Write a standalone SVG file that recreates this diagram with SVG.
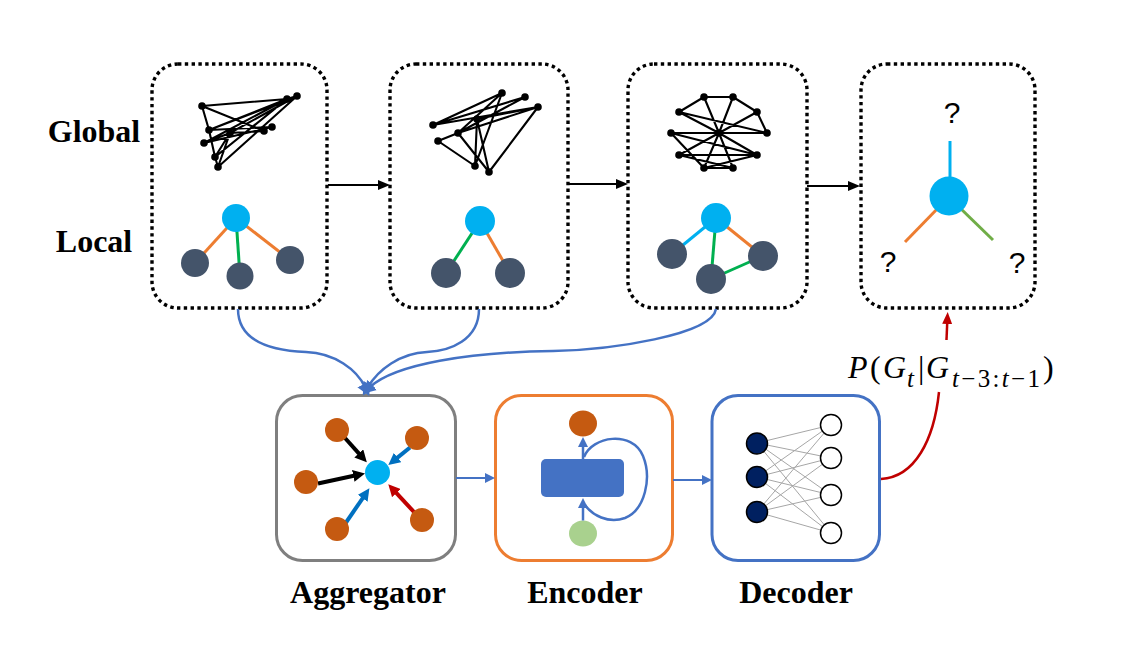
<svg xmlns="http://www.w3.org/2000/svg" width="1141" height="645" viewBox="0 0 1141 645">
<defs>
<style>
.panel{fill:none;stroke:#000;stroke-width:3.4;stroke-dasharray:3.4 3.4;}
.ge{stroke:#000;stroke-width:2.1;fill:none;stroke-linecap:round;}
.gn{fill:#000;}
.lbl{font-family:"Liberation Serif","Times New Roman",serif;font-weight:bold;font-size:32px;fill:#000;text-anchor:middle;}
.q{font-family:"Liberation Sans",Arial,sans-serif;font-size:30px;fill:#000;text-anchor:middle;}
.dark{fill:#44546a;}
.cyan{fill:#00b0f0;}
.orn{fill:#c55a11;}
.le{stroke-width:3;fill:none;}
.conn{fill:none;stroke:#4472c4;stroke-width:2.5;}
.math{font-family:"Liberation Serif","Times New Roman",serif;fill:#000;}
</style>
<marker id="ahK" markerUnits="userSpaceOnUse" markerWidth="12" markerHeight="10" refX="3" refY="5" orient="auto"><path d="M0,0 L12,5 L0,10 z" fill="#000"/></marker>
<marker id="ahB" markerUnits="userSpaceOnUse" markerWidth="14" markerHeight="14" refX="3" refY="7" orient="auto"><path d="M0,0 L13,7 L0,14 z" fill="#4472c4"/></marker>
<marker id="ahBs" markerUnits="userSpaceOnUse" markerWidth="10" markerHeight="10" refX="3" refY="5" orient="auto"><path d="M0,0 L10,5 L0,10 z" fill="#4472c4"/></marker>
<marker id="ahR" markerUnits="userSpaceOnUse" markerWidth="12" markerHeight="10" refX="3" refY="5" orient="auto"><path d="M0,0 L12,5 L0,10 z" fill="#c00000"/></marker>
<marker id="aK2" markerUnits="userSpaceOnUse" markerWidth="12" markerHeight="12" refX="3" refY="6" orient="auto"><path d="M0,0 L12,6 L0,12 z" fill="#000"/></marker>
<marker id="aB2" markerUnits="userSpaceOnUse" markerWidth="12" markerHeight="12" refX="3" refY="6" orient="auto"><path d="M0,0 L12,6 L0,12 z" fill="#0070c0"/></marker>
<marker id="aR2" markerUnits="userSpaceOnUse" markerWidth="12" markerHeight="12" refX="3" refY="6" orient="auto"><path d="M0,0 L12,6 L0,12 z" fill="#c00000"/></marker>
</defs>
<rect width="1141" height="645" fill="#fff"/>

<text class="lbl" x="94" y="142">Global</text>
<text class="lbl" x="94" y="252">Local</text>

<!-- Panel 1 -->
<g id="panel1">
<rect class="panel" x="152" y="64" width="175" height="244" rx="26"/>
<g>
<path class="ge" d="M202,106 L287,99 M202,106 L209,130 M202,106 L264,131 M209,130 L287,99 M209,130 L297,96 M209,130 L272,127 M230,133 L297,96 M230,133 L264,131 M230,133 L218,167 M204,143 L287,99 M204,143 L272,127 M204,143 L230,133 M215,157 L209,130 M215,157 L287,99 M215,157 L230,133 M218,167 L297,96 M218,167 L215,157 M287,99 L297,96"/>
<g class="gn"><circle cx="202" cy="106" r="3.8"/><circle cx="287" cy="99" r="3.8"/><circle cx="297" cy="96" r="3.8"/><circle cx="209" cy="130" r="3.8"/><circle cx="230" cy="133" r="3.8"/><circle cx="264" cy="131" r="3.8"/><circle cx="272" cy="127" r="3.8"/><circle cx="204" cy="143" r="3.8"/><circle cx="215" cy="157" r="3.8"/><circle cx="218" cy="167" r="3.8"/></g>
</g>
<line class="le" stroke="#ed7d31" x1="236" y1="218" x2="195" y2="263"/>
<line class="le" stroke="#00b050" x1="236" y1="218" x2="240" y2="276"/>
<line class="le" stroke="#ed7d31" x1="236" y1="218" x2="290" y2="260"/>
<circle class="cyan" cx="236" cy="218" r="14"/>
<circle class="dark" cx="195" cy="263" r="14"/>
<circle class="dark" cx="240" cy="276" r="13.5"/>
<circle class="dark" cx="290" cy="260" r="14"/>
</g>

<!-- Panel 2 -->
<g id="panel2">
<rect class="panel" x="390" y="64" width="178" height="244" rx="26"/>
<path class="ge" d="M433,125 L502,93 M433,125 L525,97 M433,125 L538,107 M458,133 L502,93 M458,133 L525,97 M458,133 L538,107 M438,141 L458,133 M438,141 L475,166 M477,119 L475,166 M477,119 L489,172 M502,93 L475,166 M538,107 L489,172 M458,133 L489,172 M477,119 L538,107"/>
<g class="gn"><circle cx="433" cy="125" r="3.8"/><circle cx="502" cy="93" r="3.8"/><circle cx="525" cy="97" r="3.8"/><circle cx="538" cy="107" r="3.8"/><circle cx="477" cy="119" r="3.8"/><circle cx="458" cy="133" r="3.8"/><circle cx="438" cy="141" r="3.8"/><circle cx="475" cy="166" r="3.8"/><circle cx="489" cy="172" r="3.8"/></g>
<line class="le" stroke="#00b050" x1="480" y1="221" x2="446" y2="273"/>
<line class="le" stroke="#ed7d31" x1="480" y1="221" x2="510" y2="273"/>
<circle class="cyan" cx="480" cy="221" r="15"/>
<circle class="dark" cx="446" cy="273" r="15"/>
<circle class="dark" cx="510" cy="273" r="15"/>
</g>

<!-- Panel 3 -->
<g id="panel3">
<rect class="panel" x="628" y="64" width="179" height="244" rx="26"/>
<path class="ge" d="M704,97 L733,97 M704,97 L679,112 M733,97 L757,112 M757,112 L767,133 M679,112 L767,133 M704,97 L719,133 M733,97 L719,133 M757,112 L719,133 M679,112 L719,133 M671,133 L767,133 M671,133 L704,168 M671,133 L757,155 M679,155 L757,155 M679,155 L733,168 M679,155 L719,133 M704,168 L719,133 M733,168 L719,133 M757,155 L719,133 M704,168 L757,155 M704,168 L733,168"/>
<g class="gn"><circle cx="704" cy="97" r="3.8"/><circle cx="733" cy="97" r="3.8"/><circle cx="679" cy="112" r="3.8"/><circle cx="757" cy="112" r="3.8"/><circle cx="671" cy="133" r="3.8"/><circle cx="719" cy="133" r="3.8"/><circle cx="767" cy="133" r="3.8"/><circle cx="679" cy="155" r="3.8"/><circle cx="757" cy="155" r="3.8"/><circle cx="704" cy="168" r="3.8"/><circle cx="733" cy="168" r="3.8"/></g>
<line class="le" stroke="#00b0f0" x1="716" y1="218" x2="672" y2="254"/>
<line class="le" stroke="#00b050" x1="716" y1="218" x2="711" y2="279"/>
<line class="le" stroke="#ed7d31" x1="716" y1="218" x2="763" y2="256"/>
<line class="le" stroke="#00b050" x1="711" y1="279" x2="763" y2="256"/>
<circle class="cyan" cx="716" cy="218" r="15"/>
<circle class="dark" cx="672" cy="254" r="15"/>
<circle class="dark" cx="711" cy="279" r="15"/>
<circle class="dark" cx="763" cy="256" r="15"/>
</g>

<!-- Panel 4 -->
<g id="panel4">
<rect class="panel" x="861" y="64" width="174" height="244" rx="26"/>
<text class="q" x="952" y="123">?</text>
<text class="q" x="888" y="272">?</text>
<text class="q" x="1017" y="273">?</text>
<line class="le" stroke="#00b0f0" x1="950" y1="141" x2="950" y2="180"/>
<line class="le" stroke="#ed7d31" x1="940" y1="206" x2="905" y2="242"/>
<line class="le" stroke="#70ad47" x1="958" y1="206" x2="993" y2="240"/>
<circle class="cyan" cx="949" cy="196" r="19.5"/>
</g>

<!-- Aggregator -->
<g id="aggregator">
<rect x="276.5" y="395.5" width="179" height="165" rx="26" fill="none" stroke="#7f7f7f" stroke-width="3"/>
<line stroke="#000" stroke-width="4" x1="345" y1="438" x2="360.8" y2="455.6" marker-end="url(#aK2)"/>
<line stroke="#000" stroke-width="4" x1="318" y1="483.5" x2="356.2" y2="475.3" marker-end="url(#aK2)"/>
<line stroke="#0070c0" stroke-width="4" x1="410" y1="447.5" x2="395.3" y2="459.4" marker-end="url(#aB2)"/>
<line stroke="#0070c0" stroke-width="4" x1="345" y1="524" x2="364.3" y2="495.8" marker-end="url(#aB2)"/>
<line stroke="#c00000" stroke-width="4" x1="414" y1="512" x2="394.4" y2="490.9" marker-end="url(#aR2)"/>
<circle class="orn" cx="337" cy="430" r="12"/>
<circle class="orn" cx="417" cy="438" r="12"/>
<circle class="orn" cx="306" cy="482" r="12"/>
<circle class="orn" cx="337" cy="529" r="12"/>
<circle class="orn" cx="422" cy="520" r="12"/>
<circle class="cyan" cx="377.5" cy="472.5" r="12.5"/>
</g>

<!-- Encoder -->
<g id="encoder">
<rect x="495.5" y="395.5" width="177" height="165" rx="26" fill="none" stroke="#ed7d31" stroke-width="3"/>
<rect x="541" y="459" width="83" height="38" rx="5" fill="#4472c4"/>
<ellipse cx="583" cy="423.5" rx="14" ry="13" class="orn"/>
<ellipse cx="583" cy="533.5" rx="14" ry="13" fill="#a9d18e"/>
<line stroke="#4472c4" stroke-width="2.5" x1="583" y1="459" x2="583" y2="444" marker-end="url(#ahBs)"/>
<line stroke="#4472c4" stroke-width="2.5" x1="583" y1="520.5" x2="583" y2="505" marker-end="url(#ahBs)"/>
<path d="M584,457 C592,436 632,430 643,456 C652,478 645,510 625,518 C608,524 592,515 585,505" fill="none" stroke="#4472c4" stroke-width="2.5"/>
</g>

<!-- Decoder -->
<g id="decoder">
<rect x="712" y="395.5" width="167.5" height="165" rx="26" fill="none" stroke="#4472c4" stroke-width="3"/>
<g stroke="#a6a6a6" stroke-width="1">
<path d="M757,443 L831,425 M757,443 L831,458 M757,443 L831,495 M757,443 L831,533 M757,477 L831,425 M757,477 L831,458 M757,477 L831,495 M757,477 L831,533 M757,512 L831,425 M757,512 L831,458 M757,512 L831,495 M757,512 L831,533"/>
</g>
<g fill="#002060" stroke="#000" stroke-width="1.5">
<circle cx="757" cy="443.5" r="10.5"/><circle cx="757" cy="477" r="10.5"/><circle cx="757" cy="512" r="10.5"/>
</g>
<g fill="#fff" stroke="#000" stroke-width="1.5">
<circle cx="831" cy="425" r="10.5"/><circle cx="831" cy="458" r="10.5"/><circle cx="831" cy="495" r="10.5"/><circle cx="831" cy="533" r="10.5"/>
</g>
</g>

<!-- Connectors -->
<g id="connectors">
<line stroke="#000" stroke-width="2" x1="328" y1="185" x2="381" y2="185" marker-end="url(#ahK)"/>
<line stroke="#000" stroke-width="2" x1="568" y1="184" x2="619" y2="184" marker-end="url(#ahK)"/>
<line stroke="#000" stroke-width="2" x1="807" y1="186" x2="851" y2="186" marker-end="url(#ahK)"/>
<path class="conn" d="M238,309 C238,345 280,351 306,352 C335,353 357,370 365,387" marker-end="url(#ahB)"/>
<path class="conn" d="M479,309 C479,340 450,351 427,352 C400,353 378,370 368,387" marker-end="url(#ahB)"/>
<path class="conn" d="M716,309 C712,335 610,350 553,351 C470,352 395,364 370,387" marker-end="url(#ahB)"/>
<line stroke="#4472c4" stroke-width="2" x1="456" y1="478" x2="488" y2="478" marker-end="url(#ahBs)"/>
<line stroke="#4472c4" stroke-width="2" x1="673" y1="480" x2="705" y2="480" marker-end="url(#ahBs)"/>
<path d="M881,479 C915,477 934,440 939,392" fill="none" stroke="#c00000" stroke-width="2.5"/>
<path d="M946.5,340 L947.3,321" fill="none" stroke="#c00000" stroke-width="2.5" marker-end="url(#ahR)"/>
</g>

<!-- Formula -->
<text class="math" y="378" font-size="32"><tspan x="848" font-style="italic">P</tspan><tspan x="870">(</tspan><tspan x="883" font-style="italic">G</tspan><tspan x="907" y="387" font-size="25" font-style="italic">t</tspan><tspan x="918" y="378">|</tspan><tspan x="926" font-style="italic">G</tspan><tspan x="952" y="387" font-size="25" textLength="88"><tspan font-style="italic">t</tspan>−3:<tspan font-style="italic">t</tspan>−1</tspan><tspan x="1043" y="378">)</tspan></text>

<!-- Labels -->
<text class="lbl" x="368" y="603">Aggregator</text>
<text class="lbl" x="585" y="603">Encoder</text>
<text class="lbl" x="796" y="603">Decoder</text>
</svg>
